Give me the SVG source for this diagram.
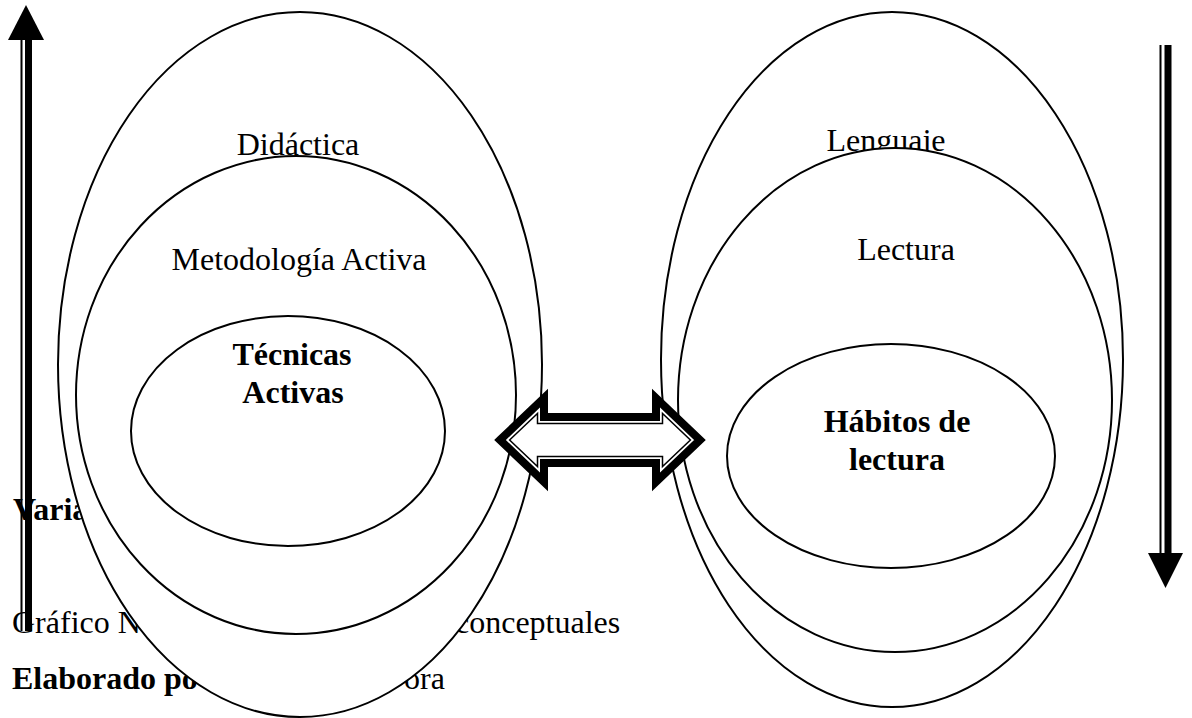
<svg xmlns="http://www.w3.org/2000/svg" width="1192" height="718" viewBox="0 0 1192 718">
<style>
.t{font-family:"Liberation Serif","Times New Roman",serif;font-size:32px;fill:#000}
.b{font-weight:bold}
.e{fill:#fff;stroke:#000;stroke-width:2}
.bar{fill:#000}
</style>
<rect width="1192" height="718" fill="#fff"/>
<g id="captions">
<text class="t b" x="13" y="520">Varia</text>
<text class="t" x="12" y="633">Gráfico N</text>
<text class="t" x="455" y="633">conceptuales</text>
<text class="t b" x="12" y="689">Elaborado po</text>
<text class="t" x="404" y="689">ora</text>
</g>
<g id="arrow-up">
<rect class="bar" x="20.5" y="40" width="2" height="591"/>
<rect class="bar" x="25" y="40" width="7" height="591"/>
<polygon class="bar" points="26,5 8,40 44,40"/>
</g>
<g id="arrow-down">
<rect class="bar" x="1159.5" y="45" width="2" height="509"/>
<rect class="bar" x="1164.5" y="45" width="7" height="509"/>
<polygon class="bar" points="1148,553 1183,553 1165.5,588"/>
</g>
<g id="didactica">
<ellipse class="e" cx="300" cy="364.5" rx="242" ry="352.5"/>
<text class="t" x="298" y="155" text-anchor="middle">Didáctica</text>
</g>
<g id="metodologia">
<ellipse class="e" cx="296" cy="395" rx="220" ry="239"/>
<text class="t" x="299" y="270" text-anchor="middle">Metodología Activa</text>
</g>
<g id="tecnicas">
<ellipse class="e" cx="288" cy="431" rx="157" ry="115"/>
<text class="t b" x="292" y="365" text-anchor="middle">Técnicas</text>
<text class="t b" x="293" y="403" text-anchor="middle">Activas</text>
</g>
<g id="lenguaje">
<ellipse class="e" cx="892" cy="359.5" rx="231" ry="347.5"/>
<text class="t" x="886" y="151" text-anchor="middle">Lenguaje</text>
</g>
<g id="lectura">
<ellipse class="e" cx="895" cy="400" rx="217" ry="252"/>
<text class="t" x="906" y="260" text-anchor="middle">Lectura</text>
</g>
<g id="habitos">
<ellipse class="e" cx="891" cy="456" rx="164" ry="112"/>
<text class="t b" x="897" y="432" text-anchor="middle">Hábitos de</text>
<text class="t b" x="897" y="470" text-anchor="middle">lectura</text>
</g>
<g id="connectors">
<path d="M500,440 L544,398 L544,417 L656,417 L656,398 L700,440 L656,482 L656,463 L544,463 L544,482 Z" fill="#fff" stroke="#000" stroke-width="8" stroke-linejoin="miter"/>
<path d="M509.6,440 L537.5,413.4 L537.5,423.5 L662.5,423.5 L662.5,413.4 L690.4,440 L662.5,466.6 L662.5,456.5 L537.5,456.5 L537.5,466.6 Z" fill="none" stroke="#000" stroke-width="1.5" stroke-linejoin="miter"/>
</g>
</svg>
